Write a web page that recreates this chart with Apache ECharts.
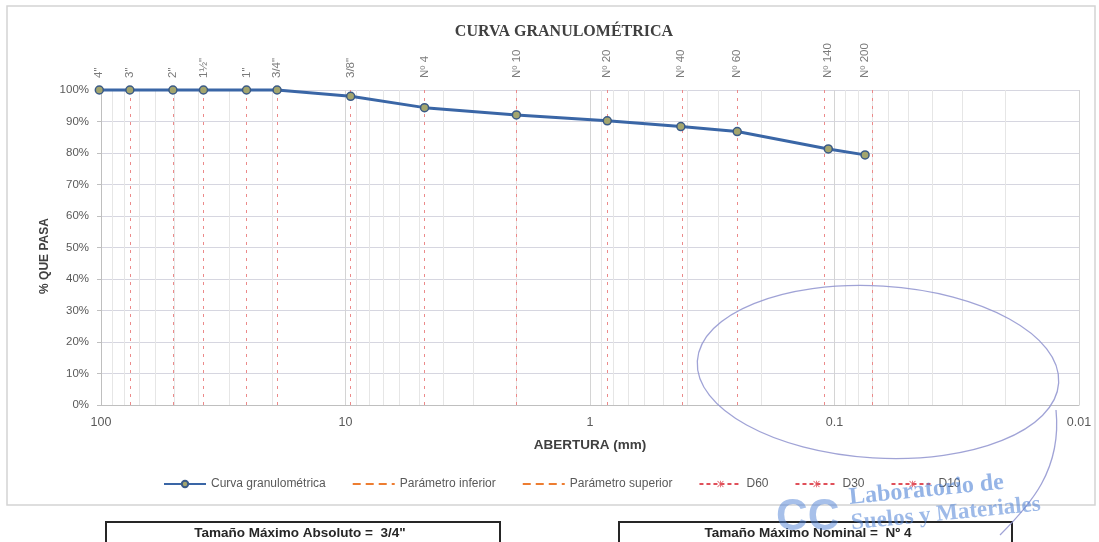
<!DOCTYPE html>
<html>
<head>
<meta charset="utf-8">
<script src="https://cdn.jsdelivr.net/npm/echarts@6/dist/echarts.min.js"></script>
<style>
  html, body { margin: 0; padding: 0; background: #ffffff; }
  #chart { width: 1099px; height: 542px; }
</style>
</head>
<body>
<div id="chart"></div>
<script>
// Sieve series: names, openings (mm) and percent passing
const tamices = ['4"', '3"', '2"', '1½"', '1"', '3/4"', '3/8"', 'Nº 4', 'Nº 10', 'Nº 20', 'Nº 40', 'Nº 60', 'Nº 140', 'Nº 200'];
const aberturas = [101.6, 76.2, 50.8, 38.1, 25.4, 19.05, 9.525, 4.75, 2.0, 0.85, 0.425, 0.25, 0.106, 0.075];
const pasa = [100, 100, 100, 100, 100, 100, 98.0, 94.4, 92.1, 90.2, 88.4, 86.8, 81.3, 79.4];

// Axis ticks
const xTicks = [100, 10, 1, 0.1, 0.01];
const yTicks = [0, 10, 20, 30, 40, 50, 60, 70, 80, 90, 100];

// Legend entries
const leyenda = ['Curva granulométrica', 'Parámetro inferior', 'Parámetro superior', 'D60', 'D30', 'D10'];

// Minor log gridlines (2..9 within each decade)
const decadas = [0.01, 0.1, 1, 10];
const minorGrid = [];
decadas.forEach(d => { for (let k = 2; k <= 9; k++) minorGrid.push(+(k * d).toPrecision(3)); });

const FONT = 'Liberation Sans, Arial, sans-serif';
const asterisco = 'path://M4.4,0L5.6,0L5.6,10L4.4,10Z M0.8,0L10,9.2L9.2,10L0,0.8Z M9.2,0L10,0.8L0.8,10L0,9.2Z';

const chart = echarts.init(document.getElementById('chart'), null, { renderer: 'canvas' });

const option = {
  backgroundColor: '#ffffff',
  animation: false,
  title: {
    text: 'CURVA GRANULOMÉTRICA',
    left: 559, textAlign: 'center', top: 19,
    textStyle: { fontFamily: 'Liberation Serif, DejaVu Serif, serif', fontWeight: 'bold', fontSize: 16, color: '#404040' }
  },
  grid: { left: 101, right: 20, top: 90, bottom: 137 },
  legend: {
    data: leyenda.map(n => (n.indexOf('Parámetro') === 0 ? { name: n, itemStyle: { opacity: 0 } } : { name: n })),
    top: 473, left: 158,
    itemWidth: 42, itemHeight: 8, itemGap: 26,
    textStyle: { fontFamily: FONT, fontSize: 12, color: '#595959' }
  },
  xAxis: {
    type: 'log', logBase: 10, min: 0.01, max: 100, inverse: true,
    name: 'ABERTURA (mm)', nameLocation: 'middle', nameGap: 33,
    nameTextStyle: { fontFamily: FONT, fontWeight: 'bold', fontSize: 13.5, color: '#404040' },
    axisLine: { lineStyle: { color: '#bfbfbf' } },
    axisTick: { show: false },
    axisLabel: {
      fontFamily: FONT, fontSize: 12.5, color: '#595959', margin: 11,
      formatter: v => (xTicks.indexOf(+v.toPrecision(3)) >= 0 ? String(+v.toPrecision(3)) : '')
    },
    splitLine: { show: true, lineStyle: { color: '#d4d4d4' } }
  },
  yAxis: {
    type: 'value', min: yTicks[0], max: yTicks[yTicks.length - 1], interval: 10,
    axisLine: { show: true, lineStyle: { color: '#bfbfbf' } },
    axisTick: { show: true, length: 4, lineStyle: { color: '#bfbfbf' } },
    axisLabel: { fontFamily: FONT, fontSize: 11.5, color: '#595959', margin: 12, formatter: '{value}%' },
    splitLine: { lineStyle: { color: '#d6d6e0' } }
  },
  series: [
    {
      // gridlines and sieve reference lines
      name: 'guias', type: 'line', data: [], silent: true,
      markLine: {
        silent: true, symbol: 'none', label: { show: false }, animation: false,
        data: minorGrid.map(v => ({ xAxis: v, lineStyle: { color: '#e6e6e6', type: 'solid', width: 1 } }))
          .concat(aberturas.map(v => ({ xAxis: v, lineStyle: { color: '#ec8a8a', type: [3, 5], width: 1 } })))
      }
    },
    {
      // sieve names above the plot
      name: 'tamices', type: 'scatter', silent: true, symbolSize: 0,
      data: aberturas.map((a, i) => ({ value: [a, 100], label: { formatter: tamices[i] } })),
      label: {
        show: true, position: 'top', distance: 12, rotate: 90, align: 'left', verticalAlign: 'middle',
        fontFamily: FONT, fontSize: 11.5, color: '#595959'
      },
      clip: false
    },
    {
      name: 'Curva granulométrica', type: 'line', clip: false, z: 5,
      data: aberturas.map((a, i) => [a, pasa[i]]),
      symbol: 'circle', symbolSize: 8,
      lineStyle: { color: '#3a66a6', width: 3 },
      itemStyle: { color: '#a3a56e', borderColor: '#3a5a86', borderWidth: 1.5 }
    },
    { name: 'Parámetro inferior', type: 'line', data: [], symbol: 'none', lineStyle: { color: '#ED7D31', width: 2, type: [8, 5] }, itemStyle: { color: '#ED7D31' } },
    { name: 'Parámetro superior', type: 'line', data: [], symbol: 'none', lineStyle: { color: '#ED7D31', width: 2, type: [8, 5] }, itemStyle: { color: '#ED7D31' } },
    { name: 'D60', type: 'line', data: [], symbol: asterisco, symbolSize: 9, lineStyle: { color: '#e0505a', width: 1.5, type: [4, 3] }, itemStyle: { color: '#e0505a' } },
    { name: 'D30', type: 'line', data: [], symbol: asterisco, symbolSize: 9, lineStyle: { color: '#e0505a', width: 1.5, type: [4, 3] }, itemStyle: { color: '#e0505a' } },
    { name: 'D10', type: 'line', data: [], symbol: asterisco, symbolSize: 9, lineStyle: { color: '#e0505a', width: 1.5, type: [4, 3] }, itemStyle: { color: '#e0505a' } }
  ],
  graphic: [
    // chart frame
    { type: 'rect', z: -10, silent: true, shape: { x: 7, y: 6, width: 1088, height: 499 },
      style: { fill: 'none', stroke: '#d4d4d4', lineWidth: 1.5 } },
    // vertical axis title
    { type: 'text', silent: true, x: 45, y: 256, rotation: Math.PI / 2,
      style: { text: '% QUE PASA', font: 'bold 12px Liberation Sans, Arial, sans-serif', fill: '#404040', align: 'center', verticalAlign: 'middle' } },
    // result boxes
    { type: 'rect', silent: true, shape: { x: 106, y: 522, width: 394, height: 30 },
      style: { fill: '#ffffff', stroke: '#262626', lineWidth: 2 } },
    { type: 'text', silent: true, x: 300, y: 533,
      style: { text: 'Tamaño Máximo Absoluto =  3/4"', font: 'bold 13.5px Liberation Sans, Arial, sans-serif', fill: '#262626', align: 'center', verticalAlign: 'middle' } },
    { type: 'rect', silent: true, shape: { x: 619, y: 522, width: 393, height: 30 },
      style: { fill: '#ffffff', stroke: '#262626', lineWidth: 2 } },
    { type: 'text', silent: true, x: 808, y: 533,
      style: { text: 'Tamaño Máximo Nominal =  Nº 4', font: 'bold 13.5px Liberation Sans, Arial, sans-serif', fill: '#262626', align: 'center', verticalAlign: 'middle' } },
    // laboratory stamp
    { type: 'ellipse', silent: true, z: 20, x: 878, y: 372, rotation: -0.06,
      shape: { cx: 0, cy: 0, rx: 181, ry: 86 },
      style: { fill: 'none', stroke: '#8f93cf', lineWidth: 1.3, opacity: 0.85 } },
    { type: 'bezierCurve', silent: true, z: 20,
      shape: { x1: 1056, y1: 410, x2: 1000, y2: 535, cpx1: 1062, cpy1: 470, cpx2: 1030, cpy2: 505 },
      style: { fill: 'none', stroke: '#8f93cf', lineWidth: 1.3, opacity: 0.85 } },
    { type: 'text', silent: true, z: 21, x: 848, y: 486, rotation: 0.1,
      style: { text: 'Laboratorio de', font: 'bold 24px Liberation Serif, serif', fill: '#4f82d6', opacity: 0.6 } },
    { type: 'text', silent: true, z: 21, x: 850, y: 512, rotation: 0.1,
      style: { text: 'Suelos y Materiales', font: 'bold 23px Liberation Serif, serif', fill: '#4f82d6', opacity: 0.55 } },
    { type: 'text', silent: true, z: 21, x: 776, y: 496,
      style: { text: 'CC', font: 'bold 44px Liberation Sans, sans-serif', fill: '#4f82d6', opacity: 0.5 } }
  ]
};

chart.setOption(option);
</script>
</body>
</html>
